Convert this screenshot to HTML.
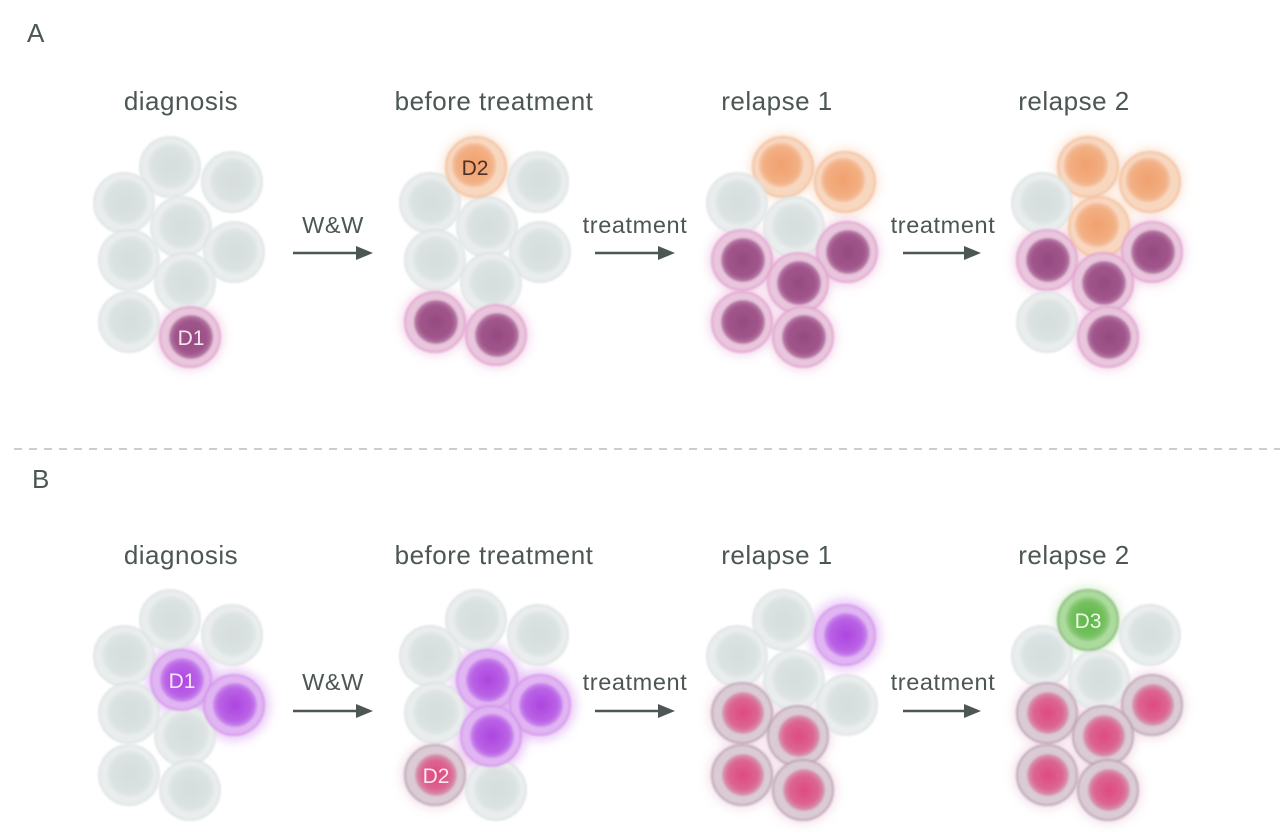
<!DOCTYPE html>
<html><head><meta charset="utf-8">
<style>
html,body{margin:0;padding:0;background:#fff;}
svg{display:block;}
text{font-family:"Liberation Sans",Arial,sans-serif;fill:#4c5755;}
.t{font-size:26px;letter-spacing:0.5px;}
.l{font-size:23.5px;letter-spacing:0.6px;}
.h{font-size:26px;}
.d{font-size:21px;}
</style></head><body>
<svg width="1280" height="837" viewBox="0 0 1280 837" xmlns="http://www.w3.org/2000/svg">
<defs>
  <filter id="soft" x="-20%" y="-20%" width="140%" height="140%"><feGaussianBlur stdDeviation="1.1"/></filter>
  <filter id="glow" x="-50%" y="-50%" width="200%" height="200%"><feGaussianBlur stdDeviation="5"/></filter>
  <radialGradient id="ng"><stop offset="0" stop-color="#d4dbdb"/><stop offset="0.8" stop-color="#d9e0e0"/><stop offset="1" stop-color="#e1e6e6"/></radialGradient>
  <radialGradient id="np"><stop offset="0" stop-color="#8e3e78"/><stop offset="0.75" stop-color="#9a4c84"/><stop offset="1" stop-color="#b577a5"/></radialGradient>
  <radialGradient id="no"><stop offset="0" stop-color="#f09c66"/><stop offset="0.75" stop-color="#f2a97a"/><stop offset="1" stop-color="#f5bd9a"/></radialGradient>
  <radialGradient id="nv"><stop offset="0" stop-color="#a93ade"/><stop offset="0.75" stop-color="#b65ae4"/><stop offset="1" stop-color="#ca88ec"/></radialGradient>
  <radialGradient id="nr"><stop offset="0" stop-color="#dd3f78"/><stop offset="0.7" stop-color="#da5c8a"/><stop offset="1" stop-color="#d296b0"/></radialGradient>
  <radialGradient id="nn"><stop offset="0" stop-color="#55b23e"/><stop offset="0.75" stop-color="#6cbd55"/><stop offset="1" stop-color="#8fcc7c"/></radialGradient>

  <g id="cg" filter="url(#soft)"><circle r="30" fill="#e8ecec" stroke="#d8dede" stroke-width="1.5"/><circle cx="1" cy="-1" r="23" fill="url(#ng)"/></g>
  <g id="cp" filter="url(#soft)"><circle r="30" fill="#e8c4dc" stroke="#de96c8" stroke-width="1.6"/><circle cx="1" cy="0" r="22" fill="url(#np)"/></g>
  <g id="co" filter="url(#soft)"><circle r="30" fill="#f8d5bd" stroke="#f0b892" stroke-width="1.6"/><circle cx="-2" cy="-2" r="22" fill="url(#no)"/></g>
  <g id="cv" filter="url(#soft)"><circle r="30" fill="#e0b3f2" stroke="#cf8ce7" stroke-width="1.6"/><circle cx="1" cy="0" r="22" fill="url(#nv)"/></g>
  <g id="cr" filter="url(#soft)"><circle r="30" fill="#d9cad3" stroke="#ad95a8" stroke-width="1.6"/><circle cx="1" cy="0" r="21" fill="url(#nr)"/></g>
  <g id="cn" filter="url(#soft)"><circle r="30" fill="#a9d99a" stroke="#72ad62" stroke-width="1.6"/><circle cx="0" cy="-1" r="22" fill="url(#nn)"/></g>

  <circle id="gp" r="34" fill="#e7a8d4" opacity="0.4" filter="url(#glow)"/>
  <circle id="go" r="34" fill="#f7c6a4" opacity="0.4" filter="url(#glow)"/>
  <circle id="gv" r="36" fill="#d89af2" opacity="0.5" filter="url(#glow)"/>
  <circle id="gr" r="34" fill="#e6b6cc" opacity="0.4" filter="url(#glow)"/>
  <circle id="gn" r="34" fill="#b4e0a4" opacity="0.4" filter="url(#glow)"/>
</defs>

<text class="h" x="27" y="42">A</text>
<text class="h" x="32" y="488">B</text>

<line x1="14" y1="449" x2="1280" y2="449" stroke="#c9cfce" stroke-width="2" stroke-dasharray="8 7"/>

<g text-anchor="middle">
<text class="t" x="181" y="110">diagnosis</text>
<text class="t" x="494" y="110">before treatment</text>
<text class="t" x="777" y="110">relapse 1</text>
<text class="t" x="1074" y="110">relapse 2</text>
<text class="t" x="181" y="564">diagnosis</text>
<text class="t" x="494" y="564">before treatment</text>
<text class="t" x="777" y="564">relapse 1</text>
<text class="t" x="1074" y="564">relapse 2</text>

<text class="l" x="333" y="233">W&amp;W</text>
<text class="l" x="635" y="233">treatment</text>
<text class="l" x="943" y="233">treatment</text>
<text class="l" x="333" y="690">W&amp;W</text>
<text class="l" x="635" y="690">treatment</text>
<text class="l" x="943" y="690">treatment</text>
</g>

<g fill="#4c5755" stroke="#4c5755">
<line x1="293" y1="253" x2="358" y2="253" stroke-width="2.5"/><polygon points="356,246 373,253 356,260" stroke="none"/>
<line x1="595" y1="253" x2="660" y2="253" stroke-width="2.5"/><polygon points="658,246 675,253 658,260" stroke="none"/>
<line x1="903" y1="253" x2="966" y2="253" stroke-width="2.5"/><polygon points="964,246 981,253 964,260" stroke="none"/>
<line x1="293" y1="711" x2="358" y2="711" stroke-width="2.5"/><polygon points="356,704 373,711 356,718" stroke="none"/>
<line x1="595" y1="711" x2="660" y2="711" stroke-width="2.5"/><polygon points="658,704 675,711 658,718" stroke="none"/>
<line x1="903" y1="711" x2="966" y2="711" stroke-width="2.5"/><polygon points="964,704 981,711 964,718" stroke="none"/>
</g>

<use href="#gp" x="190" y="337"/>
<use href="#go" x="476" y="167"/><use href="#gp" x="435" y="322"/><use href="#gp" x="496" y="335"/>
<use href="#go" x="783" y="167"/><use href="#go" x="845" y="182"/><use href="#gp" x="847" y="252"/><use href="#gp" x="742" y="260"/><use href="#gp" x="798" y="283"/><use href="#gp" x="742" y="322"/><use href="#gp" x="803" y="337"/>
<use href="#go" x="1088" y="167"/><use href="#go" x="1150" y="182"/><use href="#go" x="1099" y="227"/><use href="#gp" x="1152" y="252"/><use href="#gp" x="1047" y="260"/><use href="#gp" x="1103" y="283"/><use href="#gp" x="1108" y="337"/>
<use href="#gv" x="181" y="680"/><use href="#gv" x="234" y="705"/>
<use href="#gv" x="487" y="680"/><use href="#gv" x="540" y="705"/><use href="#gv" x="491" y="736"/><use href="#gr" x="435" y="775"/>
<use href="#gv" x="845" y="635"/><use href="#gr" x="742" y="713"/><use href="#gr" x="798" y="736"/><use href="#gr" x="742" y="775"/><use href="#gr" x="803" y="790"/>
<use href="#gn" x="1088" y="620"/><use href="#gr" x="1152" y="705"/><use href="#gr" x="1047" y="713"/><use href="#gr" x="1103" y="736"/><use href="#gr" x="1047" y="775"/><use href="#gr" x="1108" y="790"/>

<g opacity="0.93">
<use href="#cg" x="170" y="167"/><use href="#cg" x="232" y="182"/><use href="#cg" x="124" y="203"/><use href="#cg" x="181" y="227"/><use href="#cg" x="234" y="252"/><use href="#cg" x="129" y="260"/><use href="#cg" x="185" y="283"/><use href="#cg" x="129" y="322"/><use href="#cp" x="190" y="337"/>

<use href="#cg" x="538" y="182"/><use href="#cg" x="430" y="203"/><use href="#cg" x="487" y="227"/><use href="#cg" x="540" y="252"/><use href="#cg" x="435" y="260"/><use href="#cg" x="491" y="283"/><use href="#cp" x="435" y="322"/><use href="#cp" x="496" y="335"/><use href="#co" x="476" y="167"/>

<use href="#co" x="783" y="167"/><use href="#co" x="845" y="182"/><use href="#cg" x="737" y="203"/><use href="#cg" x="794" y="227"/><use href="#cp" x="847" y="252"/><use href="#cp" x="742" y="260"/><use href="#cp" x="798" y="283"/><use href="#cp" x="742" y="322"/><use href="#cp" x="803" y="337"/>

<use href="#co" x="1088" y="167"/><use href="#co" x="1150" y="182"/><use href="#cg" x="1042" y="203"/><use href="#co" x="1099" y="227"/><use href="#cp" x="1152" y="252"/><use href="#cp" x="1047" y="260"/><use href="#cp" x="1103" y="283"/><use href="#cg" x="1047" y="322"/><use href="#cp" x="1108" y="337"/>

<use href="#cg" x="170" y="620"/><use href="#cg" x="232" y="635"/><use href="#cg" x="124" y="656"/><use href="#cg" x="129" y="713"/><use href="#cg" x="185" y="736"/><use href="#cg" x="129" y="775"/><use href="#cg" x="190" y="790"/><use href="#cv" x="181" y="680"/><use href="#cv" x="234" y="705"/>

<use href="#cg" x="476" y="620"/><use href="#cg" x="538" y="635"/><use href="#cg" x="430" y="656"/><use href="#cg" x="435" y="713"/><use href="#cg" x="496" y="790"/><use href="#cv" x="487" y="680"/><use href="#cv" x="540" y="705"/><use href="#cv" x="491" y="736"/><use href="#cr" x="435" y="775"/>

<use href="#cg" x="783" y="620"/><use href="#cv" x="845" y="635"/><use href="#cg" x="737" y="656"/><use href="#cg" x="794" y="680"/><use href="#cg" x="847" y="705"/><use href="#cr" x="742" y="713"/><use href="#cr" x="798" y="736"/><use href="#cr" x="742" y="775"/><use href="#cr" x="803" y="790"/>

<use href="#cg" x="1150" y="635"/><use href="#cg" x="1042" y="656"/><use href="#cg" x="1099" y="680"/><use href="#cn" x="1088" y="620"/><use href="#cr" x="1152" y="705"/><use href="#cr" x="1047" y="713"/><use href="#cr" x="1103" y="736"/><use href="#cr" x="1047" y="775"/><use href="#cr" x="1108" y="790"/>
</g>

<g text-anchor="middle">
<text class="d" x="191" y="345" style="fill:#f3e6ef">D1</text>
<text class="d" x="475" y="175" style="fill:#4a3026">D2</text>
<text class="d" x="182" y="688" style="fill:#f4e6fb">D1</text>
<text class="d" x="436" y="783" style="fill:#fbe8ef">D2</text>
<text class="d" x="1088" y="628" style="fill:#eef8e6">D3</text>
</g>
</svg>
</body></html>
